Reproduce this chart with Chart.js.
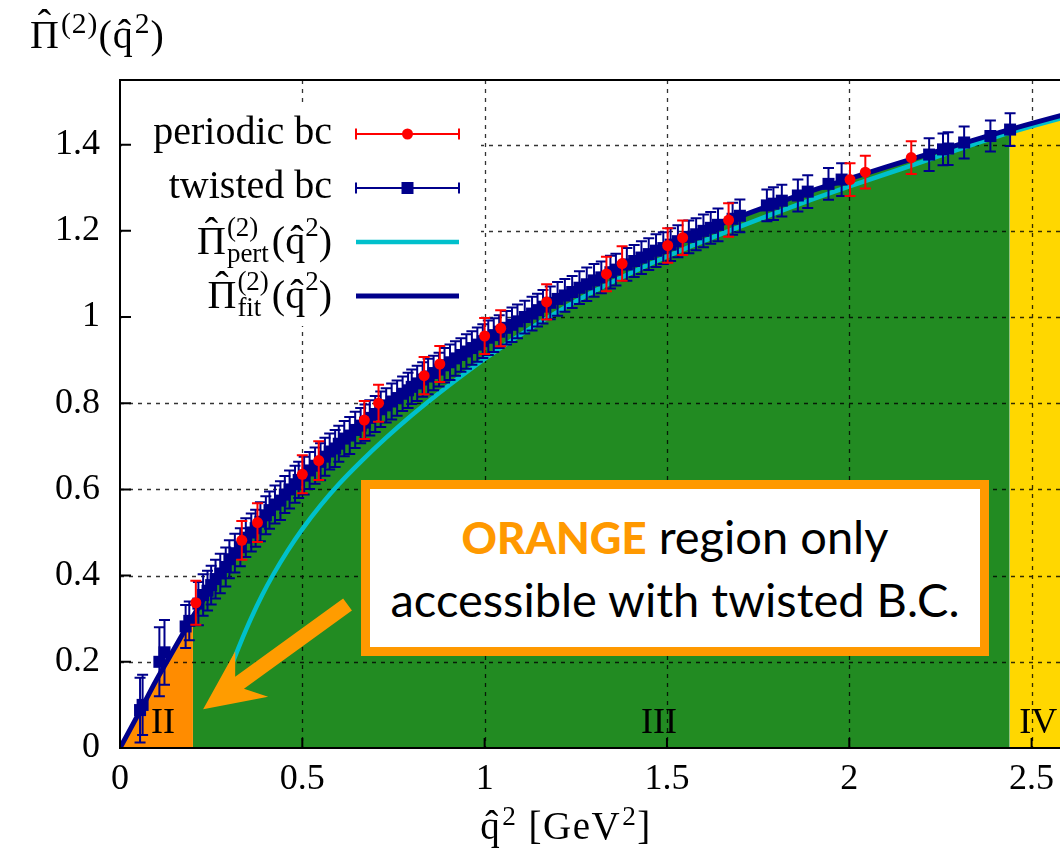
<!DOCTYPE html>
<html>
<head>
<meta charset="utf-8">
<script src="https://cdn.jsdelivr.net/npm/chart.js@4.4.0/dist/chart.umd.min.js"></script>
<style>
  html, body { margin: 0; padding: 0; background: #fff; overflow: hidden; }
  #wrap { position: relative; width: 1060px; height: 852px; overflow: hidden; }
  #chart { position: absolute; left: 0; top: 0; }
  .math { position: absolute; font-family: 'Liberation Serif', serif; font-size: 37px; line-height: 37px; color: #000; white-space: nowrap; }
  .math sup { font-size: 0.7em; position: relative; top: -0.5em; vertical-align: baseline; line-height: 0; margin-left: 1px; }
  .hat { position: relative; display: inline-block; }
  .hat::after { content: 'ˆ'; position: absolute; left: 0; right: 0; text-align: center; top: -0.28em; }
  #ytitle { left: 30px; top: 16px; font-size: 40px; letter-spacing: 1px; }
  #ytitle sup { font-size: 0.74em; }
  #xtitle { left: 366px; width: 400px; top: 807px; text-align: center; font-size: 39px; letter-spacing: 1.5px; }
  #note {
    position: absolute; left: 361px; top: 480px; width: 628px; height: 176px; box-sizing: border-box;
    border: 9px solid #ff9900; background: #fff; text-align: center;
    font-family: Lato, 'Open Sans', sans-serif; font-size: 47px; line-height: 62px; padding-top: 16px; color: #000;
  }
  #note .org { color: #ff9900; font-weight: 900; font-size: 0.93em; }
</style>
</head>
<body>
<div id="wrap">
  <canvas id="chart" width="1160" height="852"></canvas>
  <div class="math" id="ytitle"><span class="hat">Π</span><sup>(2)</sup>(q̂<sup>2</sup>)</div>
  <div class="math" id="xtitle">q̂<sup>2</sup> [GeV<sup>2</sup>]</div>
  <div id="note"><span class="org">ORANGE</span> region only<br>accessible with twisted B.C.</div>
</div>
<script>
// axis ticks
const xTicks = [0, 0.5, 1, 1.5, 2, 2.5];
const xTickLabels = ['0', '0.5', '1', '1.5', '2', '2.5'];
const yTicks = [0, 0.2, 0.4, 0.6, 0.8, 1, 1.2, 1.4];
const yTickLabels = ['0', '0.2', '0.4', '0.6', '0.8', '1', '1.2', '1.4'];

// periodic bc data (red)
const periodicQ2 = [0.208, 0.334, 0.377, 0.500, 0.545, 0.670, 0.709, 0.834, 0.877, 1.000,
                    1.044, 1.170, 1.334, 1.377, 1.502, 1.543, 1.669, 2.002, 2.044, 2.170];
const periodicPi = [0.337, 0.482, 0.523, 0.635, 0.667, 0.761, 0.800, 0.864, 0.891, 0.956,
                    0.974, 1.035, 1.100, 1.124, 1.166, 1.184, 1.225, 1.319, 1.336, 1.370];
const periodicErr = [0.051, 0.045, 0.045, 0.044, 0.045, 0.044, 0.043, 0.043, 0.042, 0.042,
                     0.042, 0.041, 0.040, 0.040, 0.040, 0.040, 0.039, 0.038, 0.038, 0.038];

// twisted bc data (blue)
const twistedQ2 = [
  0.055, 0.062, 0.108, 0.122, 0.180, 0.190, 0.215, 0.228, 0.240, 0.250,
  0.262, 0.275, 0.290, 0.300, 0.315, 0.330, 0.345, 0.360, 0.372, 0.385,
  0.400, 0.410, 0.425, 0.440, 0.452, 0.465, 0.480, 0.490, 0.505, 0.520,
  0.535, 0.550, 0.562, 0.575, 0.590, 0.600, 0.615, 0.630, 0.645, 0.660,
  0.672, 0.685, 0.700, 0.715, 0.730, 0.745, 0.760, 0.775, 0.790, 0.800,
  0.815, 0.830, 0.845, 0.860, 0.875, 0.890, 0.905, 0.920, 0.935, 0.950,
  0.965, 0.980, 0.995, 1.010, 1.025, 1.040, 1.060, 1.075, 1.090, 1.110,
  1.130, 1.145, 1.160, 1.180, 1.200, 1.220, 1.240, 1.260, 1.280, 1.300,
  1.320, 1.345, 1.360, 1.390, 1.410, 1.430, 1.450, 1.470, 1.490, 1.510,
  1.530, 1.560, 1.580, 1.600, 1.620, 1.640, 1.680, 1.700, 1.774, 1.792,
  1.815, 1.859, 1.886, 1.943, 1.979, 2.219, 2.257, 2.271, 2.315, 2.387,
  2.441
];
const twistedPi = [
  0.088, 0.100, 0.200, 0.222, 0.282, 0.295, 0.335, 0.355, 0.365, 0.378,
  0.392, 0.405, 0.420, 0.438, 0.452, 0.466, 0.488, 0.500, 0.510, 0.525,
  0.540, 0.552, 0.565, 0.574, 0.588, 0.600, 0.612, 0.622, 0.632, 0.644,
  0.655, 0.664, 0.676, 0.688, 0.695, 0.706, 0.718, 0.725, 0.738, 0.748,
  0.755, 0.766, 0.775, 0.786, 0.795, 0.804, 0.812, 0.822, 0.830, 0.838,
  0.846, 0.855, 0.862, 0.870, 0.878, 0.888, 0.895, 0.904, 0.912, 0.920,
  0.928, 0.936, 0.944, 0.952, 0.958, 0.966, 0.975, 0.982, 0.990, 1.000,
  1.008, 1.016, 1.024, 1.033, 1.042, 1.050, 1.058, 1.068, 1.076, 1.085,
  1.092, 1.104, 1.110, 1.122, 1.130, 1.138, 1.146, 1.154, 1.160, 1.168,
  1.176, 1.186, 1.192, 1.200, 1.207, 1.214, 1.228, 1.235, 1.259, 1.263,
  1.270, 1.282, 1.291, 1.309, 1.319, 1.377, 1.389, 1.391, 1.405, 1.420,
  1.435
];
const twistedErr = [
  0.075, 0.070, 0.080, 0.075, 0.050, 0.045, 0.050, 0.048, 0.046, 0.045,
  0.045, 0.046, 0.045, 0.044, 0.045, 0.044, 0.045, 0.044, 0.043, 0.045,
  0.044, 0.043, 0.044, 0.045, 0.043, 0.044, 0.043, 0.042, 0.044, 0.043,
  0.042, 0.043, 0.044, 0.042, 0.043, 0.042, 0.041, 0.043, 0.042, 0.041,
  0.042, 0.041, 0.042, 0.041, 0.040, 0.042, 0.041, 0.040, 0.041, 0.040,
  0.041, 0.040, 0.041, 0.040, 0.039, 0.040, 0.041, 0.040, 0.039, 0.040,
  0.039, 0.040, 0.039, 0.040, 0.039, 0.038, 0.039, 0.040, 0.039, 0.038,
  0.039, 0.038, 0.039, 0.038, 0.039, 0.038, 0.037, 0.038, 0.039, 0.038,
  0.037, 0.038, 0.037, 0.038, 0.037, 0.038, 0.037, 0.038, 0.037, 0.038,
  0.037, 0.038, 0.037, 0.038, 0.037, 0.038, 0.037, 0.038, 0.037, 0.038,
  0.037, 0.037, 0.038, 0.037, 0.038, 0.038, 0.037, 0.038, 0.037, 0.036,
  0.038
];

// fit curve (dark blue)
const fitQ2 = [0, 0.05, 0.1, 0.15, 0.2, 0.25, 0.3, 0.35, 0.4, 0.45,
               0.5, 0.6, 0.7, 0.8, 0.9, 1.0, 1.1, 1.2, 1.3, 1.4,
               1.5, 1.6, 1.7, 1.8, 1.9, 2.0, 2.1, 2.2, 2.3, 2.44, 2.6, 2.8];
const fitPi = [0, 0.078, 0.158, 0.232, 0.305, 0.372, 0.432, 0.488, 0.538, 0.583,
               0.625, 0.702, 0.772, 0.835, 0.892, 0.944, 0.993, 1.040, 1.083, 1.125,
               1.163, 1.199, 1.233, 1.264, 1.294, 1.321, 1.348, 1.374, 1.400, 1.435, 1.472, 1.515];

// perturbative curve (cyan)
const pertQ2 = [0.305, 0.33, 0.36, 0.39, 0.42, 0.46, 0.50, 0.55, 0.60, 0.66,
                0.73, 0.80, 0.90, 1.0, 1.1, 1.2, 1.3, 1.44, 1.57, 1.70,
                1.85, 2.0, 2.2, 2.44, 2.8];
const pertPi = [0.19, 0.243, 0.302, 0.355, 0.402, 0.458, 0.508, 0.563, 0.612, 0.664,
                0.72, 0.772, 0.84, 0.903, 0.96, 1.012, 1.06, 1.118, 1.166, 1.21,
                1.258, 1.303, 1.36, 1.428, 1.51];

// q^2 regions
const regionEdges = [0.2, 2.44];
const regionNames = ['II', 'III', 'IV'];

const NAVY = '#00008b';
const serif = "'Liberation Serif', serif";

const pts = (xs, ys) => xs.map((x, i) => ({ x: x, y: ys[i] }));
const fitPts = pts(fitQ2, fitPi);

function drawErrorBars(chart, ds) {
    const ctx = chart.ctx, xs = chart.scales.x, ys = chart.scales.y;
    ctx.save();
    ctx.strokeStyle = ds.borderColor;
    ctx.lineWidth = 2;
    ds.data.forEach((p, i) => {
        const px = xs.getPixelForValue(p.x);
        const top = ys.getPixelForValue(p.y + ds.errorBars[i]);
        const bot = ys.getPixelForValue(p.y - ds.errorBars[i]);
        ctx.beginPath();
        ctx.moveTo(px, top); ctx.lineTo(px, bot);
        ctx.moveTo(px - 5.5, top); ctx.lineTo(px + 5.5, top);
        ctx.moveTo(px - 5.5, bot); ctx.lineTo(px + 5.5, bot);
        ctx.stroke();
    });
    ctx.restore();
}

function drawRegionsAndGrid(chart) {
    const ctx = chart.ctx, xs = chart.scales.x, ys = chart.scales.y, a = chart.chartArea;
    const labelAt = [0.118, 1.478, 2.518];
    ctx.save();
    ctx.font = '36px ' + serif;
    ctx.fillStyle = '#000';
    ctx.textAlign = 'center';
    ctx.textBaseline = 'alphabetic';
    regionNames.forEach((name, i) => {
        ctx.fillText(name, xs.getPixelForValue(labelAt[i]), ys.getPixelForValue(0.035));
    });

    // dashed grid on top of the coloured regions
    ctx.setLineDash([4, 5]);
    ctx.lineWidth = 1.3;
    ctx.strokeStyle = 'rgba(0,0,0,0.8)';
    ctx.beginPath();
    xTicks.slice(1).forEach(v => {
        const px = Math.round(xs.getPixelForValue(v)) + 0.5;
        ctx.moveTo(px, a.top); ctx.lineTo(px, a.bottom);
    });
    yTicks.slice(1).forEach(v => {
        const py = Math.round(ys.getPixelForValue(v)) + 0.5;
        ctx.moveTo(a.left, py); ctx.lineTo(a.right, py);
    });
    ctx.stroke();
    ctx.setLineDash([]);

    // opaque key box
    ctx.fillStyle = '#fff';
    ctx.fillRect(a.left + 2, a.top + 27, 359, 219);
    ctx.restore();
}

function drawArrow(chart) {
    const ctx = chart.ctx, xs = chart.scales.x, ys = chart.scales.y;
    const tx = xs.getPixelForValue(0.624), ty = ys.getPixelForValue(0.333);
    const hx = xs.getPixelForValue(0.228), hy = ys.getPixelForValue(0.09);
    const len = Math.hypot(hx - tx, hy - ty);
    const ux = (hx - tx) / len, uy = (hy - ty) / len, nx = -uy, ny = ux;
    const shaft = 7.5, headHalf = 28, headLen = 60, neck = 45;
    const p = (back, side) => [hx - ux * back + nx * side, hy - uy * back + ny * side];
    const poly = [
        [tx + nx * shaft, ty + ny * shaft], p(neck, shaft), p(headLen, headHalf), [hx, hy],
        p(headLen, -headHalf), p(neck, -shaft), [tx - nx * shaft, ty - ny * shaft]
    ];
    ctx.save();
    ctx.fillStyle = '#ff9c00';
    ctx.beginPath();
    poly.forEach((q, i) => i ? ctx.lineTo(q[0], q[1]) : ctx.moveTo(q[0], q[1]));
    ctx.closePath();
    ctx.fill();
    ctx.restore();
}

function drawMathLabel(ctx, right, base, sub) {
    const big = '40px ' + serif, small = '27px ' + serif;
    const w = (t, f) => { ctx.font = f; return ctx.measureText(t).width; };
    const wPi = w('Π', big), wStack = Math.max(w('(2)', small), w(sub, small));
    const wOpen = w('(q̂', big), wTwo = w('2', small), wClose = w(')', big);
    let x = right - (wPi + wStack + 4 + wOpen + wTwo + wClose);
    ctx.textAlign = 'left';
    ctx.textBaseline = 'alphabetic';
    ctx.font = big; ctx.fillText('Π', x, base);
    ctx.textAlign = 'center'; ctx.fillText('ˆ', x + wPi / 2, base - 9);
    ctx.textAlign = 'left'; x += wPi + 1;
    ctx.font = small; ctx.fillText('(2)', x, base - 18); ctx.fillText(sub, x, base + 8); x += wStack + 3;
    ctx.font = big; ctx.fillText('(q̂', x, base); x += wOpen;
    ctx.font = small; ctx.fillText('2', x, base - 18); x += wTwo;
    ctx.font = big; ctx.fillText(')', x, base);
}

function drawLegend(chart) {
    const ctx = chart.ctx, a = chart.chartArea;
    const right = a.left + 212, x0 = a.left + 236, x1 = a.left + 339, xm = (x0 + x1) / 2;
    const items = chart.data.datasets.filter(d => d.inLegend);
    ctx.save();
    items.forEach((ds, i) => {
        const y = a.top + 54 + i * 54;
        ctx.fillStyle = '#000';
        if (ds.legendSub) {
            drawMathLabel(ctx, right, y + 12, ds.legendSub);
        } else {
            ctx.font = '40px ' + serif;
            ctx.textAlign = 'right';
            ctx.textBaseline = 'alphabetic';
            ctx.fillText(ds.label, right, y + 10);
        }
        ctx.strokeStyle = ds.borderColor;
        if (ds.errorBars) {
            ctx.lineWidth = 2;
            ctx.beginPath();
            ctx.moveTo(x0, y); ctx.lineTo(x1, y);
            ctx.moveTo(x0, y - 5.5); ctx.lineTo(x0, y + 5.5);
            ctx.moveTo(x1, y - 5.5); ctx.lineTo(x1, y + 5.5);
            ctx.stroke();
            ctx.fillStyle = ds.backgroundColor;
            ctx.beginPath();
            if (ds.pointStyle === 'rect') ctx.rect(xm - 6, y - 6, 12, 12);
            else ctx.arc(xm, y, ds.pointRadius, 0, Math.PI * 2);
            ctx.fill();
        } else {
            ctx.lineWidth = ds.borderWidth;
            ctx.beginPath();
            ctx.moveTo(x0, y); ctx.lineTo(x1, y);
            ctx.stroke();
        }
    });
    ctx.restore();
}

function drawFrame(chart) {
    const ctx = chart.ctx, xs = chart.scales.x, ys = chart.scales.y, a = chart.chartArea;
    ctx.save();
    ctx.strokeStyle = '#000';
    ctx.lineWidth = 2;
    ctx.strokeRect(a.left, a.top, a.right - a.left, a.bottom - a.top);
    ctx.beginPath();
    xTicks.forEach(v => {
        const px = xs.getPixelForValue(v);
        ctx.moveTo(px, a.bottom); ctx.lineTo(px, a.bottom - 10);
    });
    yTicks.forEach(v => {
        const py = ys.getPixelForValue(v);
        ctx.moveTo(a.left, py); ctx.lineTo(a.left + 11, py);
    });
    ctx.stroke();
    ctx.restore();
}

const decorPlugin = {
    id: 'decor',
    beforeDatasetDraw(chart, args) {
        const ds = chart.data.datasets[args.index];
        if (ds.errorBars) drawErrorBars(chart, ds);
    },
    afterDatasetDraw(chart, args) {
        if (chart.data.datasets[args.index].label === regionNames[2]) drawRegionsAndGrid(chart);
    },
    afterDatasetsDraw(chart) {
        drawArrow(chart);
    },
    afterDraw(chart) {
        drawFrame(chart);
        drawLegend(chart);
    }
};

function regionFill(label, color, from, to, order) {
    return {
        label: label,
        data: fitPts.filter(p => p.x >= from && p.x <= to),
        fill: 'origin',
        backgroundColor: color,
        borderWidth: 0,
        pointRadius: 0,
        cubicInterpolationMode: 'monotone',
        order: order
    };
}

function initializeChart() {
    const ctx = document.getElementById('chart').getContext('2d');
    const tickFont = { family: serif, size: 36 };
    new Chart(ctx, {
        type: 'line',
        data: {
            datasets: [
                {
                    label: 'periodic bc',
                    data: pts(periodicQ2, periodicPi),
                    errorBars: periodicErr,
                    showLine: false,
                    pointStyle: 'circle',
                    pointRadius: 5.5,
                    pointBorderWidth: 0,
                    backgroundColor: '#ff0000',
                    borderColor: '#ff0000',
                    inLegend: true,
                    order: 1
                },
                {
                    label: 'twisted bc',
                    data: pts(twistedQ2, twistedPi),
                    errorBars: twistedErr,
                    showLine: false,
                    pointStyle: 'rect',
                    pointRadius: 8.5,
                    pointBorderWidth: 0,
                    backgroundColor: NAVY,
                    borderColor: NAVY,
                    inLegend: true,
                    order: 2
                },
                {
                    label: 'pert',
                    legendSub: 'pert',
                    data: pts(pertQ2, pertPi),
                    borderColor: '#00c0cc',
                    borderWidth: 4.5,
                    pointRadius: 0,
                    fill: false,
                    cubicInterpolationMode: 'monotone',
                    inLegend: true,
                    order: 4
                },
                {
                    label: 'fit',
                    legendSub: 'fit',
                    data: fitPts,
                    borderColor: NAVY,
                    borderWidth: 5,
                    pointRadius: 0,
                    fill: false,
                    cubicInterpolationMode: 'monotone',
                    inLegend: true,
                    order: 3
                },
                regionFill(regionNames[0], '#ff8c00', 0, regionEdges[0], 7),
                regionFill(regionNames[1], '#228b22', regionEdges[0], regionEdges[1], 6),
                regionFill(regionNames[2], '#ffd700', regionEdges[1], 3, 5)
            ]
        },
        options: {
            responsive: false,
            animation: false,
            devicePixelRatio: 1,
            layout: { padding: { top: 80, right: 19, left: 0, bottom: 0 } },
            plugins: { legend: { display: false }, tooltip: { enabled: false } },
            scales: {
                x: {
                    type: 'linear',
                    min: 0,
                    max: 2.8,
                    grid: { display: false, drawTicks: false },
                    border: { display: false },
                    afterBuildTicks: axis => { axis.ticks = xTicks.map(v => ({ value: v })); },
                    afterFit: axis => { axis.height = 104; },
                    ticks: {
                        font: tickFont,
                        color: '#000',
                        padding: 10,
                        maxRotation: 0,
                        autoSkip: false,
                        callback: (v, i) => xTickLabels[i]
                    }
                },
                y: {
                    type: 'linear',
                    min: 0,
                    max: 1.55,
                    grid: { display: false, drawTicks: false },
                    border: { display: false },
                    afterBuildTicks: axis => { axis.ticks = yTicks.map(v => ({ value: v })); },
                    afterFit: axis => { axis.width = 120; },
                    ticks: {
                        font: tickFont,
                        color: '#000',
                        padding: 20,
                        autoSkip: false,
                        callback: (v, i) => yTickLabels[i]
                    }
                }
            }
        },
        plugins: [decorPlugin]
    });
}

initializeChart();
</script>
</body>
</html>
